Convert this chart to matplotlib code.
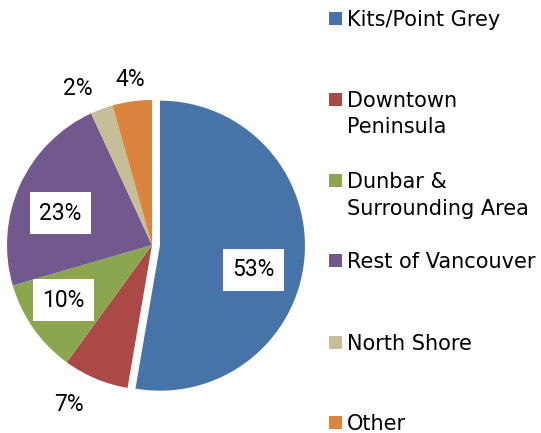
import matplotlib
matplotlib.use("Agg")
import matplotlib.pyplot as plt
import numpy as np

categories = ["Kits/Point Grey", "Downtown\nPeninsula", "Dunbar &\nSurrounding Area",
              "Rest of Vancouver", "North Shore", "Other"]
shares = [52.7, 7.3, 10.5, 22.6, 2.5, 4.4]
pct_labels = ["53%", "7%", "10%", "23%", "2%", "4%"]

colors = ["#4674A8", "#AA4946", "#8BA64F", "#71598E", "#C5BE98", "#DB843E"]

# label placement (pie radius units, relative to pie centre) and whether boxed
label_xy = [(0.70, -0.17), (-0.57, -1.10), (-0.61, -0.38), (-0.63, 0.22), (-0.51, 1.08), (-0.15, 1.14)]
boxed = [True, False, True, True, False, False]

W, H = 541, 433
cx, cy, R = 152, 245, 145
fig = plt.figure(figsize=(W / 100, H / 100), dpi=100)
ax = fig.add_axes([0, 0, 1, 1])

explode = [0.055, 0, 0, 0, 0, 0]
ax.pie(shares, colors=colors, startangle=90, counterclock=False, explode=explode,
       radius=1.0, center=(0, 0), frame=True,
       wedgeprops=dict(linewidth=0))
ax.set_xlim(-cx / R, (W - cx) / R)
ax.set_ylim((cy - H) / R, cy / R)
ax.set_aspect("equal")
ax.axis("off")

pfont = "Roboto"
for (x, y), lab, b in zip(label_xy, pct_labels, boxed):
    kw = {}
    if b:
        kw["bbox"] = dict(boxstyle="square,pad=0.42", fc="white", ec="none")
    ax.text(x, y, lab, ha="center", va="center", fontsize=16.5, family=pfont, color="black", **kw)

# legend
lfont = "DejaVu Sans"
baselines = [26, 107, 188, 268, 350, 430]
line_gap = 26.5
for yb, c, lab in zip(baselines, colors, categories):
    fig.patches.append(plt.Rectangle((329 / W, 1 - (yb - 1) / H), 13 / W, 13 / H,
                                     transform=fig.transFigure, fc=c, ec="none"))
    for i, line in enumerate(lab.split("\n")):
        fig.text(347 / W, 1 - (yb + i * line_gap) / H, line, ha="left", va="baseline",
                 fontsize=15, family=lfont, color="black")

fig.savefig("out.png", dpi=100)
